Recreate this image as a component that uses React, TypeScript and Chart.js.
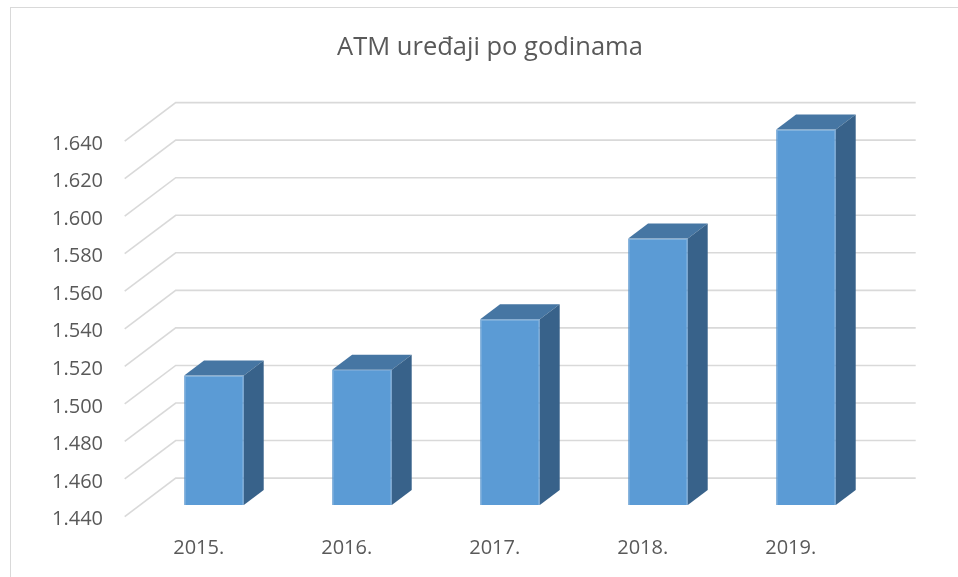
import React, { useEffect, useRef } from "react";
import { Chart, registerables } from "chart.js";

Chart.register(...registerables);

const categories = ["2015.", "2016.", "2017.", "2018.", "2019."];
const atmCounts = [1509, 1512, 1539, 1582, 1640];
const yMin = 1440;
const yMax = 1640;
const yStep = 20;
const chartTitle = "ATM uređaji po godinama";

const DEPTH_X = 51;
const DEPTH_Y = 38.4;
const BAR_PLANE_T = 0.3;
const BAR_DEPTH_T = 0.39;

const FRONT = "#5B9BD5";
const TOP = "#4676A3";
const SIDE = "#38628A";
const GRID = "#d9d9d9";
const TEXT = "#595959";
const FONT = "'Open Sans', 'Noto Sans', sans-serif";

const excel3d = {
  id: "excel3d",
  beforeDraw(chart: any) {
    const ctx = chart.ctx;
    ctx.save();
    ctx.fillStyle = "#ffffff";
    ctx.fillRect(0, 0, chart.width, chart.height);
    ctx.strokeStyle = GRID;
    ctx.lineWidth = 1;
    ctx.strokeRect(10.5, 7.5, 2000, 2000);
    ctx.restore();
  },
  beforeDatasetsDraw(chart: any) {
    const ctx = chart.ctx;
    const ys = chart.scales.y;
    const { left, right } = chart.chartArea;
    ctx.save();
    ctx.strokeStyle = GRID;
    ctx.lineWidth = 1.6;
    ys.ticks.forEach((t: any) => {
      const y = ys.getPixelForValue(t.value);
      const fx = left - BAR_PLANE_T * DEPTH_X;
      const fy = y + BAR_PLANE_T * DEPTH_Y;
      const bx = left + (1 - BAR_PLANE_T) * DEPTH_X;
      const by = y - (1 - BAR_PLANE_T) * DEPTH_Y;
      const ex = right + (1 - BAR_PLANE_T) * DEPTH_X;
      ctx.beginPath();
      ctx.moveTo(fx, fy);
      ctx.lineTo(bx, by);
      ctx.lineTo(ex, by);
      ctx.stroke();
    });
    ctx.restore();
  },
  afterDatasetsDraw(chart: any) {
    const ctx = chart.ctx;
    const meta = chart.getDatasetMeta(0);
    const dx = BAR_DEPTH_T * DEPTH_X;
    const dy = BAR_DEPTH_T * DEPTH_Y;
    ctx.save();
    meta.data.forEach((el: any) => {
      const { x, y, base, width } = el.getProps(["x", "y", "base", "width"], true);
      const l = x - width / 2;
      const r = x + width / 2;
      ctx.fillStyle = TOP;
      ctx.beginPath();
      ctx.moveTo(l, y);
      ctx.lineTo(l + dx, y - dy);
      ctx.lineTo(r + dx, y - dy);
      ctx.lineTo(r, y);
      ctx.closePath();
      ctx.fill();
      ctx.fillStyle = SIDE;
      ctx.beginPath();
      ctx.moveTo(r, y);
      ctx.lineTo(r + dx, y - dy);
      ctx.lineTo(r + dx, base - dy);
      ctx.lineTo(r, base);
      ctx.closePath();
      ctx.fill();
    });
    ctx.restore();
  },
  afterDraw(chart: any) {
    const ctx = chart.ctx;
    ctx.save();
    ctx.fillStyle = TEXT;
    ctx.font = `25.5px ${FONT}`;
    ctx.textAlign = "center";
    ctx.textBaseline = "alphabetic";
    ctx.fillText(chartTitle, 490, 55);
    ctx.restore();
  },
};

export default function App() {
  const ref = useRef<HTMLCanvasElement | null>(null);

  useEffect(() => {
    if (!ref.current) return;
    const chart = new Chart(ref.current, {
      type: "bar",
      data: {
        labels: categories,
        datasets: [
          {
            label: "ATM",
            data: atmCounts,
            backgroundColor: FRONT,
            borderColor: "#5593CC",
            borderWidth: 1,
            barPercentage: 0.403,
            categoryPercentage: 1,
            base: yMin,
            clip: false as any,
          } as any,
        ],
      },
      options: {
        responsive: false,
        animation: false,
        devicePixelRatio: 1,
        layout: { padding: { left: 0, right: 78, top: 129.5, bottom: 0 } },
        plugins: {
          legend: { display: false },
          tooltip: { enabled: false },
          title: { display: false },
        },
        scales: {
          x: {
            grid: { display: false, drawTicks: false },
            border: { display: false },
            ticks: {
              color: TEXT,
              font: { family: FONT, size: 20 },
              labelOffset: -BAR_PLANE_T * DEPTH_X,
              padding: 31,
            },
            afterFit: (s: any) => {
              s.height = 72;
            },
          },
          y: {
            min: yMin,
            max: yMax,
            grid: { display: false, drawTicks: false },
            border: { display: false },
            ticks: {
              stepSize: yStep,
              color: TEXT,
              font: { family: FONT, size: 20 },
              padding: 37,
              labelOffset: BAR_PLANE_T * DEPTH_Y + 3,
              callback: (v: any) => (Number(v) / 1000).toFixed(3),
            },
            afterFit: (s: any) => {
              s.width = 140;
            },
          },
        },
      },
      plugins: [excel3d],
    });
    return () => chart.destroy();
  }, []);

  return (
    <div style={{ position: "fixed", left: 0, top: 0, width: 958, height: 577, background: "#fff" }}>
      <canvas ref={ref} width={958} height={577} style={{ display: "block" }} />
    </div>
  );
}
